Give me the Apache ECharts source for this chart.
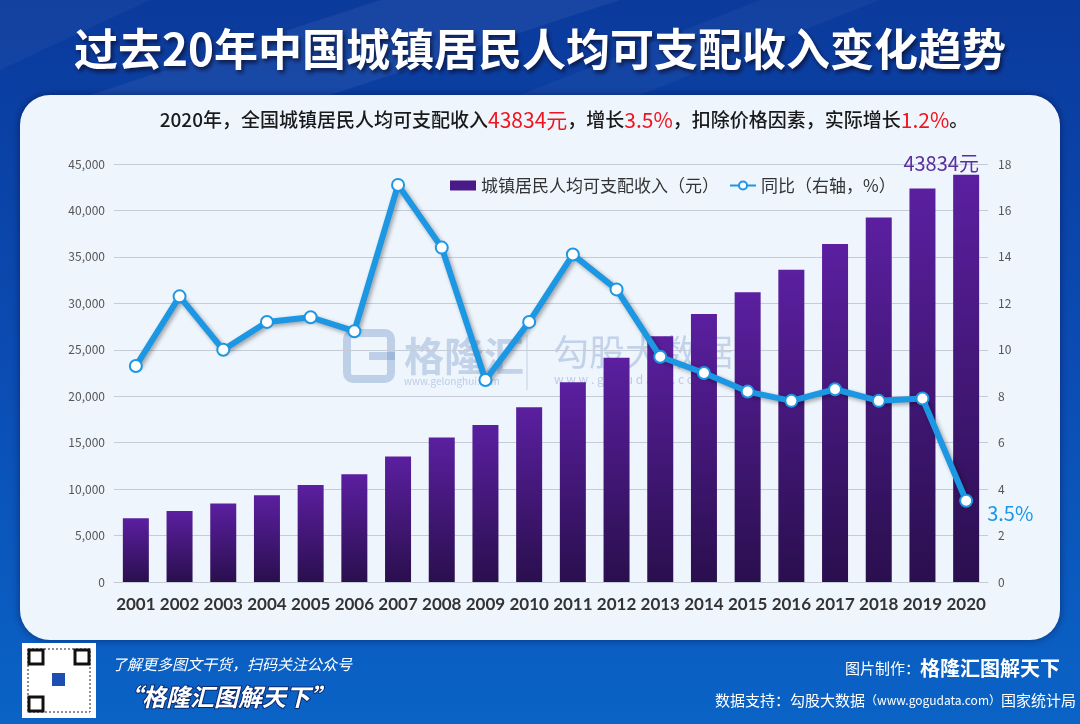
<!DOCTYPE html>
<html>
<head>
<meta charset="utf-8">
<style>
html,body{margin:0;padding:0;background:#0b47ad;}
#c{width:1080px;height:724px;}
</style>
<script src="https://cdn.jsdelivr.net/npm/echarts@6/dist/echarts.min.js"></script>
</head>
<body>
<div id="c"></div>
<script>
const years = ['2001','2002','2003','2004','2005','2006','2007','2008','2009','2010','2011','2012','2013','2014','2015','2016','2017','2018','2019','2020'];
const income = [6860, 7650, 8440, 9350, 10450, 11600, 13500, 15550, 16900, 18800, 21500, 24150, 26467, 28844, 31195, 33616, 36396, 39251, 42359, 43834];
const growth = [9.3, 12.3, 10.0, 11.2, 11.4, 10.8, 17.1, 14.4, 8.7, 11.2, 14.1, 12.6, 9.7, 9.0, 8.2, 7.8, 8.3, 7.8, 7.9, 3.5];
const leftTicks = {min: 0, max: 45000, interval: 5000};
const rightTicks = {min: 0, max: 18, interval: 2};
const seriesNames = ['城镇居民人均可支配收入（元）', '同比（右轴，%）'];
const titleText = '过去20年中国城镇居民人均可支配收入变化趋势';
const lastIncomeLabel = '43834元';
const lastGrowthLabel = '3.5%';

const FONT = '"Noto Sans CJK SC","Noto Sans",sans-serif';
const chart = echarts.init(document.getElementById('c'), null, {renderer: 'canvas'});

const lastIdx = years.length - 1;
const barData = income.map((v, i) => i === lastIdx ? {
  value: v,
  label: {show: true, position: 'top', distance: 1, offset: [-25, 0], formatter: lastIncomeLabel, color: '#5b2fa0', fontSize: 20, fontFamily: FONT}
} : v);
const lineData = growth.map((v, i) => i === lastIdx ? {
  value: v,
  label: {show: true, position: 'right', distance: 14, offset: [0, 13], formatter: lastGrowthLabel, color: '#1c97e3', fontSize: 20, fontFamily: FONT}
} : v);

const option = {
  backgroundColor: 'transparent',
  animation: false,
  graphic: [
    {type: 'rect', z: -10, shape: {x: 0, y: 0, width: 1080, height: 724},
      style: {fill: new echarts.graphic.LinearGradient(0, 0, 0, 1, [
        {offset: 0, color: '#0a3a9c'}, {offset: 0.5, color: '#0b4cb3'}, {offset: 1, color: '#0a63c6'}])}},
    {type: 'polygon', z: -9, shape: {points: [[380, 0], [620, 0], [330, 95], [90, 95]]}, style: {fill: 'rgba(255,255,255,0.06)'}},
    {type: 'polygon', z: -9, shape: {points: [[760, 0], [880, 0], [640, 95], [520, 95]]}, style: {fill: 'rgba(255,255,255,0.04)'}},
    {type: 'polygon', z: -9, shape: {points: [[0, 0], [150, 0], [0, 70]]}, style: {fill: 'rgba(255,255,255,0.04)'}},
    {type: 'rect', z: -5, shape: {x: 20, y: 95, width: 1040, height: 545, r: 30},
      style: {fill: '#eef5fd', shadowBlur: 8, shadowColor: 'rgba(0,0,40,0.45)'}},
    {type: 'text', z: 10, x: 540, y: 49,
      style: {text: titleText, fill: '#ffffff', font: 'bold 44px ' + FONT, align: 'center', verticalAlign: 'middle',
        textShadowColor: 'rgba(10,20,60,0.9)', textShadowBlur: 4, textShadowOffsetX: 2, textShadowOffsetY: 3}},
    {type: 'text', z: 10, x: 564, y: 120,
      style: {
        text: '{b|2020年，全国城镇居民人均可支配收入}{r|43834元}{b|，增长}{r|3.5%}{b|，扣除价格因素，实际增长}{r|1.2%}{b|。}',
        align: 'center', verticalAlign: 'middle',
        rich: {
          b: {fill: '#1a1a1a', font: '500 19px ' + FONT},
          r: {fill: '#f0141e', font: '21px ' + FONT}
        }
      }},
    {type: 'group', z: 50, children: [
      {type: 'rect', shape: {x: 347, y: 333, width: 44, height: 46, r: 6}, style: {fill: 'none', stroke: 'rgba(90,130,190,0.32)', lineWidth: 8}},
      {type: 'rect', shape: {x: 369, y: 352, width: 26, height: 8}, style: {fill: 'rgba(90,130,190,0.32)'}},
      {type: 'text', x: 404, y: 356, style: {text: '格隆汇', fill: 'rgba(90,130,190,0.3)', font: 'bold 40px ' + FONT, verticalAlign: 'middle'}},
      {type: 'text', x: 404, y: 381, style: {text: 'www.gelonghui.com', fill: 'rgba(90,130,190,0.35)', font: '10px ' + FONT, verticalAlign: 'middle'}},
      {type: 'line', shape: {x1: 527, y1: 335, x2: 527, y2: 390}, style: {stroke: 'rgba(90,130,190,0.3)', lineWidth: 1}},
      {type: 'text', x: 553, y: 352, style: {text: '勾股大数据', fill: 'rgba(90,130,190,0.3)', font: '36px ' + FONT, verticalAlign: 'middle'}},
      {type: 'text', x: 554, y: 379, style: {text: 'w w w . g o g u d a t a . c o m', fill: 'rgba(90,130,190,0.35)', font: '12px ' + FONT, verticalAlign: 'middle'}}
    ]},
    {type: 'rect', z: 10, shape: {x: 22, y: 643, width: 74, height: 75}, style: {fill: '#ffffff'}},
    {type: 'rect', z: 11, shape: {x: 28, y: 649, width: 62, height: 63}, style: {fill: '#ffffff', stroke: '#222', lineWidth: 1, lineDash: [2, 2]}},
    {type: 'rect', z: 11, shape: {x: 29, y: 650, width: 14, height: 14}, style: {fill: 'none', stroke: '#111', lineWidth: 3}},
    {type: 'rect', z: 11, shape: {x: 75, y: 650, width: 14, height: 14}, style: {fill: 'none', stroke: '#111', lineWidth: 3}},
    {type: 'rect', z: 11, shape: {x: 29, y: 697, width: 14, height: 14}, style: {fill: 'none', stroke: '#111', lineWidth: 3}},
    {type: 'rect', z: 11, shape: {x: 52, y: 673, width: 13, height: 13}, style: {fill: '#1d4fb0'}},
    {type: 'text', z: 10, x: 112, y: 664, style: {text: '了解更多图文干货，扫码关注公众号', fill: '#ffffff', font: 'italic 15px ' + FONT, verticalAlign: 'middle'}},
    {type: 'text', z: 10, x: 118, y: 697, style: {text: '“格隆汇图解天下”', fill: '#ffffff', font: 'italic bold 24px ' + FONT, verticalAlign: 'middle',
      stroke: '#0a2a70', lineWidth: 2}},
    {type: 'text', z: 10, x: 1060, y: 668, style: {text: '{a|图片制作：}{b|格隆汇图解天下}', align: 'right', verticalAlign: 'middle',
      rich: {a: {fill: '#ffffff', font: '15px ' + FONT}, b: {fill: '#ffffff', font: 'bold 20px ' + FONT}}}},
    {type: 'text', z: 10, x: 1076, y: 700, style: {text: '{a|数据支持：勾股大数据}{s|（www.gogudata.com）}{a|国家统计局}', align: 'right', verticalAlign: 'middle',
      rich: {a: {fill: '#ffffff', font: '15px ' + FONT}, s: {fill: '#ffffff', font: '12px ' + FONT}}}}
  ],
  legend: {
    left: 445, top: 172,
    itemWidth: 26, itemHeight: 10, itemGap: 10,
    textStyle: {fontSize: 17, color: '#333', fontFamily: FONT},
    data: [
      {name: seriesNames[0], icon: 'rect', itemStyle: {color: '#4a1a88'}},
      {name: seriesNames[1]}
    ]
  },
  grid: {left: 114, right: 92, top: 164, bottom: 142},
  xAxis: {
    type: 'category', data: years,
    axisLine: {lineStyle: {color: '#c5ccd8'}},
    axisTick: {show: false},
    axisLabel: {interval: 0, hideOverlap: false, color: '#333', fontSize: 17, fontWeight: 'bold', fontFamily: 'Lato, "Noto Sans", sans-serif', margin: 14}
  },
  yAxis: [
    {type: 'value', min: leftTicks.min, max: leftTicks.max, interval: leftTicks.interval,
      axisLine: {show: false}, axisTick: {show: false},
      axisLabel: {color: '#555', fontSize: 12, fontFamily: FONT, margin: 9,
        formatter: v => v.toLocaleString('en-US')},
      splitLine: {lineStyle: {color: '#c5ccd8', width: 1}}},
    {type: 'value', min: rightTicks.min, max: rightTicks.max, interval: rightTicks.interval,
      axisLine: {show: false}, axisTick: {show: false},
      axisLabel: {color: '#555', fontSize: 12, fontFamily: FONT, margin: 10},
      splitLine: {show: false}}
  ],
  series: [
    {name: seriesNames[0], type: 'bar', yAxisIndex: 0, data: barData, barWidth: 26, z: 2,
      itemStyle: {color: new echarts.graphic.LinearGradient(0, 0, 0, 1, [
        {offset: 0, color: '#5b1fa0'}, {offset: 1, color: '#2a0f4e'}])}},
    {name: seriesNames[1], type: 'line', yAxisIndex: 1, data: lineData, z: 5,
      symbol: 'circle', symbolSize: 12,
      lineStyle: {color: '#1c97e3', width: 6, shadowColor: 'rgba(0,0,0,0.35)', shadowBlur: 4, shadowOffsetX: 2, shadowOffsetY: 2},
      itemStyle: {color: '#ffffff', borderColor: '#1c97e3', borderWidth: 2}}
  ]
};
chart.setOption(option);
</script>
</body>
</html>
